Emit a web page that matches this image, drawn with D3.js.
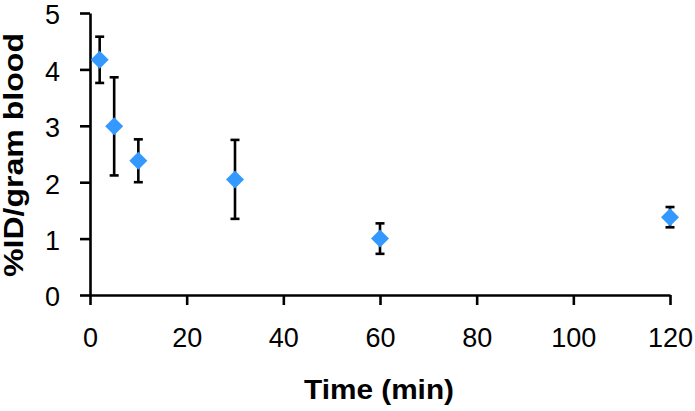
<!DOCTYPE html>
<html>
<head>
<meta charset="utf-8">
<script src="https://cdn.jsdelivr.net/npm/d3@7"></script>
<style>
  body { margin: 0; background: #fff; }
  svg { display: block; font-family: "Liberation Sans", Arial, sans-serif; }
</style>
</head>
<body>
<div id="chart"></div>
<script>
// data
const times = [2, 5, 10, 30, 60, 120];
const means = [4.17, 2.99, 2.38, 2.05, 1.0, 1.38];
const errors = [0.41, 0.87, 0.38, 0.70, 0.27, 0.18];
const xTicks = [0, 20, 40, 60, 80, 100, 120];
const yTicks = [0, 1, 2, 3, 4, 5];

const width = 695;
const height = 411;
const blue = "#3399ff";

const svg = d3
  .select("#chart")
  .append("svg")
  .attr("width", width)
  .attr("height", height);

const xScale = d3.scaleLinear().domain([0, 120]).range([90, 670]);
const yScale = d3.scaleLinear().domain([0, 5]).range([295, 13]);

// x axis
const xAxis = svg
  .append("g")
  .attr("transform", `translate(0,${yScale(0)})`)
  .call(
    d3
      .axisBottom(xScale)
      .tickValues(xTicks)
      .tickFormat(d3.format("d"))
      .tickSize(10)
      .tickSizeOuter(0)
      .tickPadding(23)
  );

// y axis
const yAxis = svg
  .append("g")
  .attr("transform", `translate(${xScale(0)},0)`)
  .call(
    d3
      .axisLeft(yScale)
      .tickValues(yTicks)
      .tickFormat(d3.format("d"))
      .tickSize(10)
      .tickSizeOuter(0)
      .tickPadding(20)
  );

[xAxis, yAxis].forEach((ax) => {
  ax.select(".domain").attr("stroke", "#000").attr("stroke-width", 2.6);
  ax.selectAll(".tick line").attr("stroke", "#000").attr("stroke-width", 2.6);
  ax.selectAll(".tick text")
    .attr("fill", "#000")
    .style("font-size", "27px")
    .style("font-family", "Liberation Sans, Arial, sans-serif");
});
yAxis.selectAll(".tick text").attr("dy", "0.4em");

// error bars
const bars = svg
  .selectAll(".err")
  .data(times)
  .enter()
  .append("g")
  .attr("class", "err");

const cap = 4.5;
bars
  .append("line")
  .attr("x1", (d) => xScale(d))
  .attr("x2", (d) => xScale(d))
  .attr("y1", (d, i) => yScale(means[i] + errors[i]))
  .attr("y2", (d, i) => yScale(means[i] - errors[i]));
bars
  .append("line")
  .attr("x1", (d) => xScale(d) - cap)
  .attr("x2", (d) => xScale(d) + cap)
  .attr("y1", (d, i) => yScale(means[i] + errors[i]))
  .attr("y2", (d, i) => yScale(means[i] + errors[i]));
bars
  .append("line")
  .attr("x1", (d) => xScale(d) - cap)
  .attr("x2", (d) => xScale(d) + cap)
  .attr("y1", (d, i) => yScale(means[i] - errors[i]))
  .attr("y2", (d, i) => yScale(means[i] - errors[i]));
bars.selectAll("line").attr("stroke", "#000").attr("stroke-width", 2.6);

// diamond markers
svg
  .selectAll(".pt")
  .data(times)
  .enter()
  .append("path")
  .attr("class", "pt")
  .attr("d", d3.symbol(d3.symbolSquare, 162))
  .attr("transform", (d, i) => `translate(${xScale(d)},${yScale(means[i])}) rotate(45)`)
  .attr("fill", blue);

// axis titles
svg
  .append("text")
  .attr("x", 379)
  .attr("y", 399)
  .attr("text-anchor", "middle")
  .attr("textLength", 150)
  .attr("lengthAdjust", "spacingAndGlyphs")
  .style("font-size", "27px")
  .style("font-weight", "bold")
  .text("Time (min)");

svg
  .append("text")
  .attr("transform", "translate(23,155) rotate(-90)")
  .attr("text-anchor", "middle")
  .attr("textLength", 244)
  .attr("lengthAdjust", "spacingAndGlyphs")
  .style("font-size", "27px")
  .style("font-weight", "bold")
  .text("%ID/gram blood");
</script>
</body>
</html>
